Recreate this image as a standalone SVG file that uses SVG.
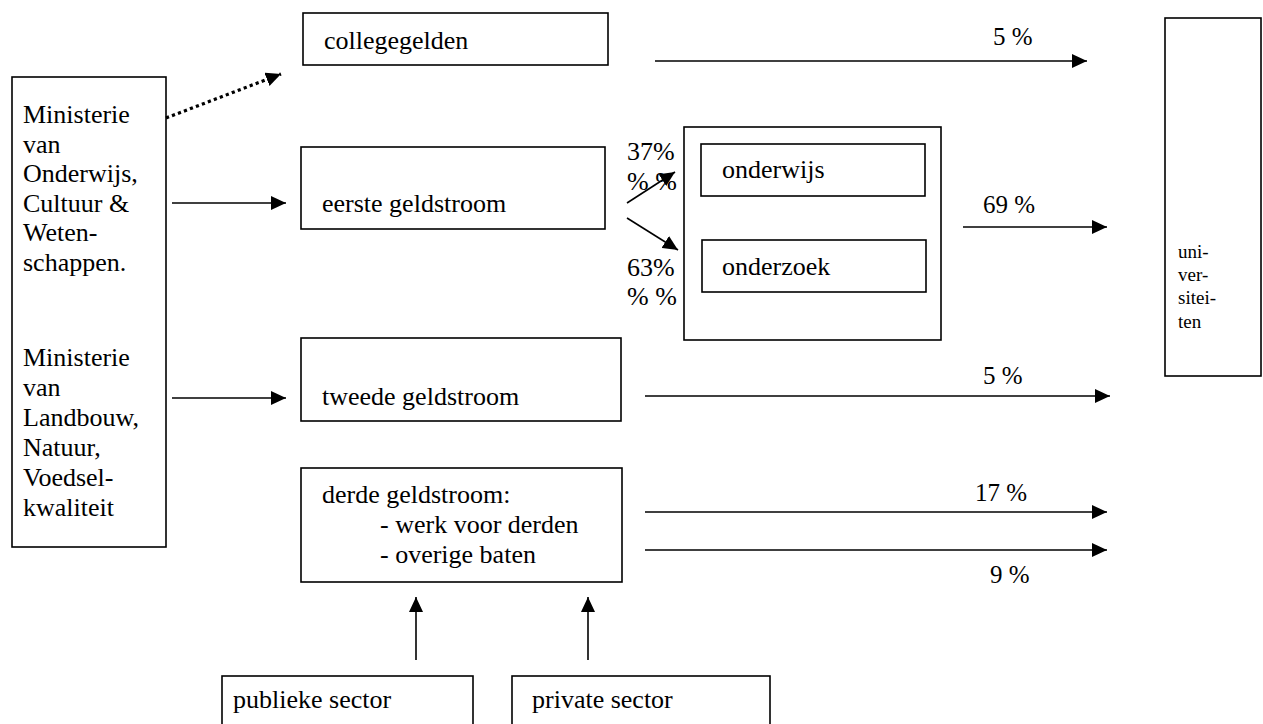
<svg xmlns="http://www.w3.org/2000/svg" width="1263" height="724" viewBox="0 0 1263 724" font-family="'Liberation Serif', 'Times New Roman', Times, 'DejaVu Serif', serif">
<style>
.box{fill:#fff;stroke:#000;stroke-width:1.6}
text{font-family:'Liberation Serif','Times New Roman',Times,'DejaVu Serif',serif;fill:#000}
.t{font-size:26px}
.p{font-size:25px}
.u{font-size:19px}
.c{stroke:#000;stroke-width:1.6;fill:none;marker-end:url(#ah)}
.d{stroke:#000;stroke-width:3.2;fill:none;stroke-dasharray:3.2 3.2;marker-end:url(#ah)}
</style>
<defs>
<marker id="ah" markerUnits="userSpaceOnUse" markerWidth="16" markerHeight="14" refX="15" refY="7" orient="auto">
<path d="M0,0 L15,7 L0,14 Z" fill="#000"/>
</marker>
</defs>

<g id="ministerie">
<rect class="box" x="12" y="77" width="154" height="470"/>
<text class="t" x="23" y="123">Ministerie</text>
<text class="t" x="23" y="152.5">van</text>
<text class="t" x="23" y="182">Onderwijs,</text>
<text class="t" x="23" y="211.5">Cultuur &amp;</text>
<text class="t" x="23" y="241">Weten-</text>
<text class="t" x="23" y="270.5">schappen.</text>
<text class="t" x="23" y="366">Ministerie</text>
<text class="t" x="23" y="396">van</text>
<text class="t" x="23" y="426">Landbouw,</text>
<text class="t" x="23" y="456">Natuur,</text>
<text class="t" x="23" y="486">Voedsel-</text>
<text class="t" x="23" y="516">kwaliteit</text>
</g>

<g id="collegegelden">
<rect class="box" x="303" y="13" width="305" height="52"/>
<text class="t" x="324" y="49">collegegelden</text>
</g>

<g id="eerste">
<rect class="box" x="301" y="147" width="304" height="82"/>
<text class="t" x="322" y="212">eerste geldstroom</text>
</g>

<g id="tweede">
<rect class="box" x="301" y="338" width="320" height="83"/>
<text class="t" x="322" y="405">tweede geldstroom</text>
</g>

<g id="derde">
<rect class="box" x="301" y="468" width="321" height="114"/>
<text class="t" x="322" y="503">derde geldstroom:</text>
<text class="t" x="380" y="533">- werk voor derden</text>
<text class="t" x="380" y="563">- overige baten</text>
</g>

<g id="onderwijs-onderzoek">
<rect class="box" x="684" y="127" width="257" height="213"/>
<g id="onderwijs">
<rect class="box" x="701" y="144" width="224" height="52"/>
<text class="t" x="722" y="178">onderwijs</text>
</g>
<g id="onderzoek">
<rect class="box" x="702" y="240" width="224" height="52"/>
<text class="t" x="722" y="275">onderzoek</text>
</g>
</g>

<g id="universiteiten">
<rect class="box" x="1165" y="18" width="96" height="358"/>
<text class="u" x="1178" y="258">uni-</text>
<text class="u" x="1178" y="281">ver-</text>
<text class="u" x="1178" y="304">sitei-</text>
<text class="u" x="1178" y="328">ten</text>
</g>

<g id="publieke">
<rect class="box" x="222" y="676" width="251" height="60"/>
<text class="t" x="233" y="708">publieke sector</text>
</g>

<g id="private">
<rect class="box" x="512" y="676" width="258" height="60"/>
<text class="t" x="532" y="708">private sector</text>
</g>

<g id="connectors">
<line class="d" x1="166" y1="118" x2="281" y2="74"/>
<line class="c" x1="172" y1="203" x2="286" y2="203"/>
<line class="c" x1="172" y1="398" x2="286" y2="398"/>
<line class="c" x1="627" y1="203" x2="675" y2="172"/>
<line class="c" x1="627" y1="218" x2="678" y2="250"/>
<line class="c" x1="655" y1="61" x2="1087" y2="61"/>
<line class="c" x1="963" y1="227" x2="1107" y2="227"/>
<line class="c" x1="645" y1="396" x2="1110" y2="396"/>
<line class="c" x1="645" y1="512" x2="1107" y2="512"/>
<line class="c" x1="645" y1="550" x2="1107" y2="550"/>
<line class="c" x1="416" y1="660" x2="416" y2="597"/>
<line class="c" x1="588" y1="660" x2="588" y2="597"/>
</g>

<g id="labels">
<text class="p" x="993" y="45">5 %</text>
<text class="p" x="983" y="213">69 %</text>
<text class="p" x="983" y="384">5 %</text>
<text class="p" x="975" y="501">17 %</text>
<text class="p" x="990" y="583">9 %</text>
<text class="t" x="627" y="160">37%</text>
<text class="t" x="627" y="190">% %</text>
<text class="t" x="627" y="276">63%</text>
<text class="t" x="627" y="305">% %</text>
</g>
</svg>
